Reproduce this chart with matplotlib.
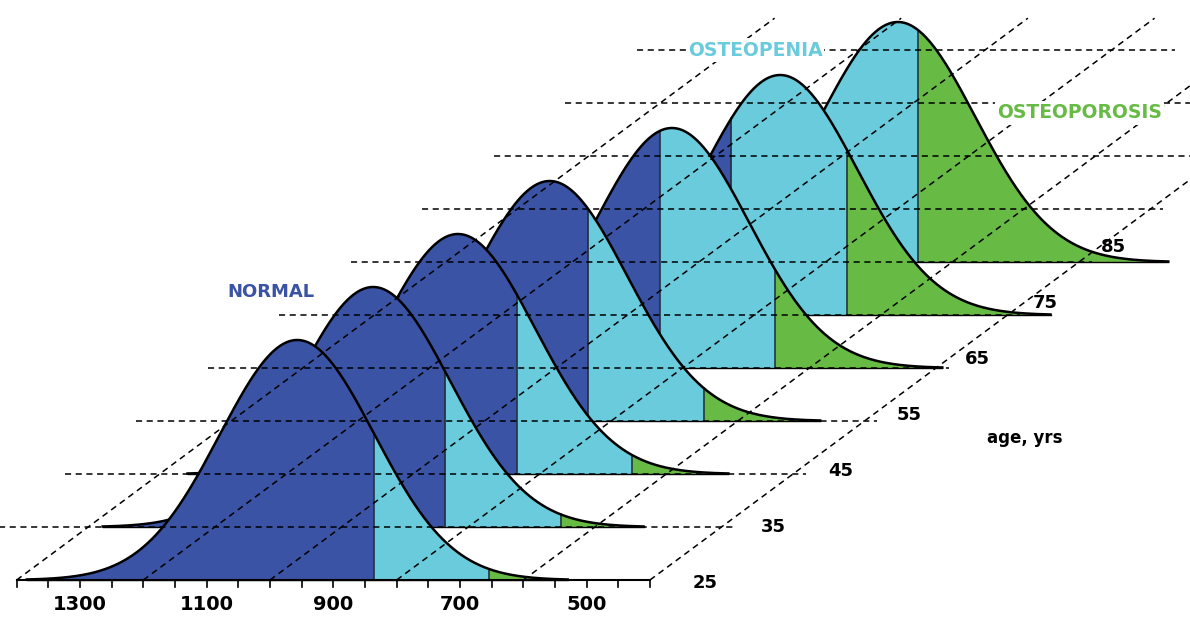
import numpy as np
import matplotlib.pyplot as plt

# bone density distributions by age decade (BMD, mg/cm2)
ages = [25, 35, 45, 55, 65, 75, 85]
mean_bmd = [957, 950, 929, 897, 817, 759, 686]
sd_bmd = [122, 122, 122, 122, 122, 122, 122]
peak_height = 240

# category cut-offs
osteopenia_cut = 836
osteoporosis_cut = 654

bmd_tick_labels = [1300, 1100, 900, 700, 500]
floor_lines = [1400, 1200, 1000, 800, 600, 400]

# oblique projection of the age axis (per decade)
shift_x = 112.9
shift_y = 53

c_normal = '#3a53a4'
c_penia = '#6acbdc'
c_porosis = '#67bb45'

fig = plt.figure(figsize=(11.9, 6.17), dpi=100)
ax = fig.add_axes([0, 0, 1, 1])
ax.set_xlim(1426.3, -452.7)
ax.set_ylim(-37, 580)
ax.axis('off')

# curves, back to front
for i in reversed(range(len(ages))):
    m, s = mean_bmd[i], sd_bmd[i]
    x = np.linspace(m - 3.5 * s, m + 3.5 * s, 700)
    x = np.union1d(x, [c for c in (osteopenia_cut, osteoporosis_cut) if x[0] < c < x[-1]])
    h = peak_height * np.exp(-0.5 * ((x - m) / s) ** 2)
    X = x - i * shift_x
    y0 = i * shift_y
    z = 2 + (len(ages) - i)

    parts = [(x >= osteopenia_cut, c_normal),
             ((x <= osteopenia_cut) & (x >= osteoporosis_cut), c_penia),
             (x <= osteoporosis_cut, c_porosis)]
    for mask, col in parts:
        if mask.sum() > 1:
            ax.fill_between(X[mask], y0, y0 + h[mask], color=col, lw=0.6, zorder=z)

    for cut in (osteopenia_cut, osteoporosis_cut):
        if x[0] < cut < x[-1]:
            hc = peak_height * np.exp(-0.5 * ((cut - m) / s) ** 2)
            ax.plot([cut - i * shift_x] * 2, [y0, y0 + hc], color='#1e2a3a', lw=1.1, zorder=z + 0.3)

    ax.plot([X[0], X[-1]], [y0, y0], color='black', lw=1.0, zorder=z + 0.3)
    ax.plot(X, y0 + h, color='black', lw=1.8, zorder=z + 0.5)

# floor grid
dash = (0, (4, 3))
grid_right = [380] * 9 + [700]
for i in range(1, 11):
    ax.plot([1550 - i * shift_x, grid_right[i - 1] - i * shift_x], [i * shift_y] * 2,
            color='black', lw=1.1, ls=dash, zorder=20)
top = 10.6
for b in floor_lines:
    ax.plot([b, b - top * shift_x], [0, top * shift_y],
            color='black', lw=1.1, ls=dash, zorder=20)

# front axis
ax.plot([1400, 400], [0, 0], color='black', lw=1.5, zorder=21)
for t in range(400, 1401, 50):
    ax.plot([t, t], [0, -7], color='black', lw=1.2, zorder=21)
for t in bmd_tick_labels:
    ax.text(t, -25, str(t), ha='center', va='center', fontsize=14,
            fontweight='bold', zorder=22)

# age labels
for i, a in enumerate(ages):
    ax.text(313 - i * 107.4, -3 + i * 56, str(a), ha='center', va='center',
            fontsize=13, fontweight='bold', zorder=22)
ax.text(-192, 142, 'age, yrs', ha='center', va='center', fontsize=12,
        fontweight='bold', zorder=22)

# category labels
box = dict(facecolor='white', edgecolor='none', pad=1.5)
ax.text(998, 288, 'NORMAL', color=c_normal, ha='center', va='center',
        fontsize=13, fontweight='bold', zorder=22)
ax.text(234, 530, 'OSTEOPENIA', color=c_penia, ha='center', va='center',
        fontsize=13.5, fontweight='bold', zorder=22, bbox=box)
ax.text(-279, 467, 'OSTEOPOROSIS', color=c_porosis, ha='center', va='center',
        fontsize=13.5, fontweight='bold', zorder=22, bbox=box)

fig.savefig('out.png', dpi=100)
